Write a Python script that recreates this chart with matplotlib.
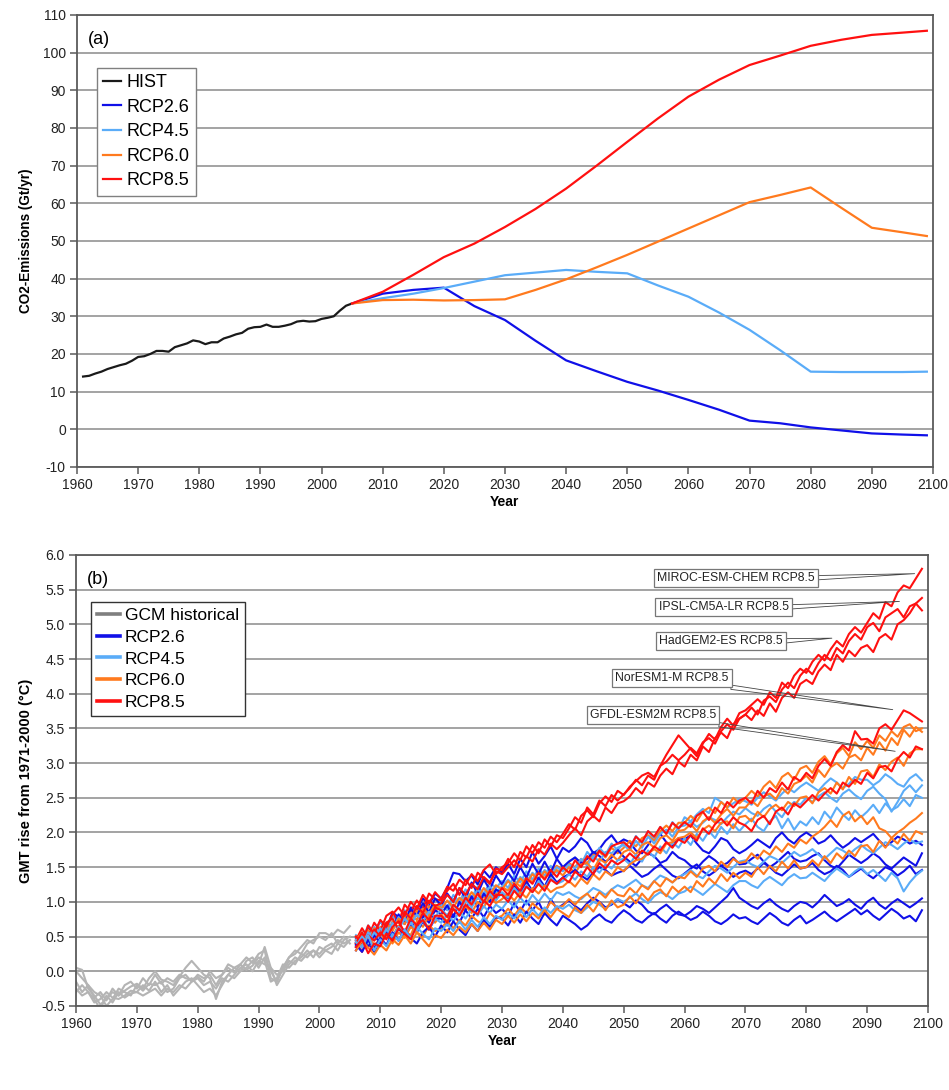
import matplotlib
matplotlib.use('Agg')
import matplotlib.pyplot as plt
import numpy as np
from matplotlib.lines import Line2D

plt.rcParams['font.family'] = ['Liberation Sans', 'DejaVu Sans']
plt.rcParams['axes.unicode_minus'] = False

# ---------------- panel (a): CO2 emissions (Gt/yr) ----------------
hist_years = list(range(1961, 2006))
hist_emis = [14.0, 14.2, 14.8, 15.3, 16.0, 16.5, 17.0, 17.4, 18.2, 19.2,
             19.4, 20.0, 20.8, 20.8, 20.6, 21.8, 22.3, 22.8, 23.6, 23.3,
             22.6, 23.1, 23.1, 24.1, 24.6, 25.2, 25.6, 26.7, 27.1, 27.2,
             27.8, 27.2, 27.2, 27.5, 27.9, 28.6, 28.8, 28.6, 28.7, 29.3,
             29.6, 30.0, 31.5, 32.8, 33.4]

rcp_years = [2005, 2010, 2015, 2020, 2025, 2030, 2035, 2040, 2045, 2050,
             2055, 2060, 2065, 2070, 2075, 2080, 2085, 2090, 2095, 2099]
emis_rcp26 = [33.4, 36.0, 37.0, 37.6, 32.7, 29.0, 23.5, 18.3, 15.4, 12.6,
              10.3, 7.8, 5.2, 2.3, 1.6, 0.5, -0.3, -1.1, -1.4, -1.6]
emis_rcp45 = [33.4, 34.8, 36.0, 37.5, 39.2, 40.9, 41.6, 42.3, 41.8, 41.4,
              38.2, 35.2, 31.0, 26.4, 21.0, 15.3, 15.2, 15.2, 15.2, 15.3]
emis_rcp60 = [33.4, 34.3, 34.4, 34.2, 34.3, 34.5, 37.0, 39.8, 43.0, 46.3,
              49.8, 53.3, 56.8, 60.3, 62.2, 64.2, 58.8, 53.5, 52.3, 51.3]
emis_rcp85 = [33.4, 36.5, 41.0, 45.7, 49.3, 53.7, 58.5, 63.9, 70.0, 76.3,
              82.5, 88.3, 92.8, 96.7, 99.2, 101.8, 103.4, 104.7, 105.3, 105.8]

# ---------------- panel (b): GMT rise from 1971-2000 (degC) ----------------
gcm_hist_years = list(range(1960, 2006))
gcm_hist = [
    [0.05, 0.02, -0.25, -0.35, -0.48, -0.40, -0.30, -0.35, -0.28, -0.22,
     -0.18, -0.25, -0.10, 0.00, -0.12, -0.15, -0.20, -0.08, 0.05, 0.15,
     0.05, -0.05, -0.10, -0.40, -0.15, -0.05, 0.05, 0.10, 0.20, 0.12,
     0.25, 0.30, -0.10, -0.15, 0.05, 0.20, 0.25, 0.35, 0.45, 0.40,
     0.55, 0.55, 0.50, 0.60, 0.55, 0.65],
    [-0.30, -0.20, -0.30, -0.40, -0.55, -0.35, -0.45, -0.30, -0.38, -0.32,
     -0.30, -0.20, -0.28, -0.15, -0.30, -0.20, -0.35, -0.25, -0.15, -0.10,
     -0.20, -0.30, -0.25, -0.35, -0.20, -0.05, -0.10, 0.00, 0.05, 0.15,
     0.10, 0.35, 0.05, -0.20, -0.05, 0.10, 0.20, 0.15, 0.25, 0.30,
     0.25, 0.35, 0.40, 0.30, 0.45, 0.50],
    [-0.15, -0.30, -0.20, -0.38, -0.30, -0.42, -0.25, -0.35, -0.20, -0.15,
     -0.25, -0.10, -0.20, -0.05, -0.18, -0.10, -0.15, -0.05, -0.10, -0.12,
     -0.08, -0.15, 0.00, -0.10, -0.05, 0.05, -0.02, 0.10, 0.02, 0.08,
     0.20, 0.15, -0.15, -0.10, 0.10, 0.05, 0.15, 0.20, 0.30, 0.20,
     0.35, 0.30, 0.25, 0.40, 0.35, 0.45],
    [-0.25, -0.35, -0.30, -0.45, -0.40, -0.30, -0.38, -0.40, -0.35, -0.28,
     -0.30, -0.35, -0.30, -0.25, -0.35, -0.25, -0.30, -0.20, -0.25, -0.15,
     -0.10, -0.20, -0.15, -0.25, -0.10, -0.15, -0.05, 0.05, 0.10, 0.00,
     0.15, 0.10, 0.05, -0.05, 0.00, 0.15, 0.10, 0.25, 0.20, 0.30,
     0.20, 0.30, 0.35, 0.45, 0.40, 0.45],
    [0.00, -0.10, -0.20, -0.30, -0.35, -0.50, -0.40, -0.25, -0.30, -0.35,
     -0.20, -0.28, -0.18, -0.20, -0.15, -0.30, -0.25, -0.10, -0.05, -0.15,
     -0.05, -0.10, -0.05, -0.20, -0.05, 0.10, 0.05, 0.00, 0.15, 0.20,
     0.05, 0.20, 0.00, -0.15, 0.05, 0.20, 0.30, 0.25, 0.40, 0.45,
     0.50, 0.45, 0.55, 0.40, 0.50, 0.40],
]

proj_years = list(range(2006, 2100))
models = ['MIROC-ESM-CHEM', 'IPSL-CM5A-LR', 'HadGEM2-ES', 'NorESM1-M', 'GFDL-ESM2M']

gmt_rcp26 = [
    [0.48, 0.40, 0.62, 0.55,
     0.72, 0.60, 0.85, 0.78, 0.70, 0.92, 0.88, 1.05, 0.95, 1.12,
     1.05, 1.20, 1.42, 1.40, 1.30, 1.38, 1.25, 1.45, 1.35, 1.50,
     1.42, 1.55, 1.40, 1.62, 1.50, 1.72, 1.55, 1.66, 1.80, 1.62,
     1.78, 1.72, 1.80, 1.92, 1.85, 1.70, 1.76, 1.88, 1.96, 1.84,
     1.90, 1.86, 1.74, 1.70, 1.82, 1.95, 1.98, 1.86, 1.80, 1.92,
     1.90, 1.96, 1.84, 1.74, 1.70, 1.80, 1.92, 1.88, 1.76, 1.70,
     1.75, 1.82, 1.90, 1.84, 1.78, 1.92, 2.00, 1.90, 1.84, 1.94,
     2.00, 1.94, 1.84, 1.88, 1.96, 1.86, 1.78, 1.84, 1.92, 1.86,
     1.92, 1.98, 1.88, 1.80, 1.86, 1.94, 1.90, 1.84, 1.88, 1.82],
    [0.42, 0.55, 0.35, 0.60,
     0.48, 0.70, 0.60, 0.82, 0.68, 0.90, 0.80, 0.98, 0.85, 1.05,
     0.95, 1.12, 1.00, 1.20, 1.05, 1.28, 1.12, 1.32, 1.18, 1.38,
     1.25, 1.42, 1.30, 1.50, 1.35, 1.55, 1.40, 1.58, 1.42, 1.62,
     1.50, 1.58, 1.64, 1.56, 1.62, 1.72, 1.66, 1.58, 1.64, 1.75,
     1.65, 1.58, 1.52, 1.62, 1.70, 1.66, 1.56, 1.60, 1.72, 1.64,
     1.60, 1.52, 1.48, 1.58, 1.66, 1.60, 1.52, 1.56, 1.64, 1.54,
     1.55, 1.62, 1.68, 1.58, 1.50, 1.56, 1.64, 1.72, 1.62, 1.58,
     1.60, 1.66, 1.70, 1.60, 1.52, 1.48, 1.58, 1.68, 1.62, 1.56,
     1.62, 1.70, 1.64, 1.54, 1.48, 1.56, 1.64, 1.58, 1.52, 1.70],
    [0.35, 0.50, 0.42, 0.28,
     0.45, 0.60, 0.48, 0.65, 0.52, 0.72, 0.60, 0.80, 0.70, 0.88,
     0.82, 0.95, 0.78, 1.00, 0.88, 1.08, 0.92, 1.12, 1.00, 1.18,
     1.12, 1.05, 1.25, 1.10, 1.30, 1.15, 1.35, 1.22, 1.40, 1.28,
     1.35, 1.40, 1.46, 1.38, 1.32, 1.42, 1.50, 1.46, 1.38, 1.42,
     1.45, 1.52, 1.44, 1.36, 1.40, 1.48, 1.54, 1.46, 1.38, 1.34,
     1.41, 1.48, 1.54, 1.44, 1.38, 1.44, 1.52, 1.46, 1.36, 1.42,
     1.45, 1.40, 1.48, 1.56, 1.50, 1.42, 1.38, 1.46, 1.54, 1.48,
     1.50, 1.56, 1.46, 1.40, 1.44, 1.52, 1.46, 1.36, 1.42, 1.48,
     1.40, 1.34, 1.42, 1.50, 1.46, 1.38, 1.44, 1.52, 1.40, 1.46],
    [0.30, 0.45, 0.36, 0.52,
     0.40, 0.56, 0.46, 0.62, 0.50, 0.66, 0.56, 0.72, 0.60, 0.76,
     0.76, 0.66, 0.82, 0.70, 0.88, 0.76, 0.90, 0.78, 0.94, 0.84,
     0.90, 0.80, 0.98, 0.86, 1.02, 0.88, 1.00, 0.82, 1.04, 0.90,
     0.96, 1.02, 0.94, 0.88, 0.98, 1.06, 1.00, 0.92, 0.96, 1.04,
     0.98, 0.92, 1.02, 0.96, 0.86, 0.82, 0.90, 0.96, 0.88, 0.82,
     0.80, 0.86, 0.94, 0.90, 0.84, 0.92, 1.00, 1.08, 1.20, 1.06,
     1.00, 0.94, 0.90, 0.98, 1.04, 0.96, 0.90, 0.86, 0.94, 1.00,
     0.98, 0.92, 1.00, 1.10, 1.02, 0.94, 0.98, 1.04, 0.96, 0.90,
     1.00, 1.06, 0.96, 0.90, 0.98, 1.04, 0.98, 0.92, 0.98, 1.05],
    [0.38, 0.28, 0.45, 0.33,
     0.48, 0.38, 0.56, 0.44, 0.60, 0.48, 0.40, 0.56, 0.64, 0.50,
     0.66, 0.56, 0.72, 0.60, 0.52, 0.68, 0.58, 0.74, 0.64, 0.78,
     0.76, 0.66, 0.82, 0.70, 0.86, 0.76, 0.68, 0.84, 0.74, 0.66,
     0.80, 0.74, 0.68, 0.60, 0.66, 0.76, 0.82, 0.74, 0.70, 0.80,
     0.88, 0.82, 0.74, 0.70, 0.78, 0.84, 0.76, 0.70, 0.80, 0.86,
     0.80, 0.74, 0.78, 0.86, 0.80, 0.72, 0.68, 0.74, 0.82, 0.76,
     0.78, 0.72, 0.68, 0.76, 0.84, 0.78, 0.70, 0.66, 0.74, 0.80,
     0.69, 0.74, 0.80, 0.86, 0.78, 0.72, 0.78, 0.84, 0.90, 0.82,
     0.88, 0.80, 0.74, 0.82, 0.90, 0.84, 0.76, 0.80, 0.72, 0.88],
]

gmt_rcp45 = [
    [0.52, 0.44, 0.66, 0.56,
     0.72, 0.60, 0.80, 0.70, 0.88, 0.78, 0.94, 0.84, 1.00, 0.90,
     1.02, 0.92, 1.10, 1.00, 1.18, 1.06, 1.22, 1.12, 1.28, 1.20,
     1.30, 1.20, 1.38, 1.28, 1.44, 1.32, 1.48, 1.38, 1.52, 1.42,
     1.50, 1.58, 1.64, 1.54, 1.72, 1.62, 1.78, 1.68, 1.84, 1.74,
     1.86, 1.78, 1.95, 1.84, 2.02, 1.90, 2.08, 1.98, 2.15, 2.04,
     2.22, 2.16, 2.26, 2.34, 2.28, 2.50, 2.44, 2.36, 2.42, 2.48,
     2.45, 2.40, 2.50, 2.58, 2.52, 2.46, 2.56, 2.64, 2.58, 2.66,
     2.72, 2.66, 2.60, 2.70, 2.78, 2.72, 2.64, 2.70, 2.80, 2.76,
     2.76, 2.68, 2.74, 2.84, 2.78, 2.70, 2.66, 2.78, 2.84, 2.75],
    [0.40, 0.56, 0.46, 0.64,
     0.54, 0.70, 0.60, 0.78, 0.68, 0.84, 0.74, 0.90, 0.80, 0.94,
     0.96, 0.88, 1.04, 0.96, 1.10, 1.02, 1.18, 1.08, 1.22, 1.14,
     1.22, 1.32, 1.22, 1.36, 1.28, 1.42, 1.32, 1.46, 1.38, 1.50,
     1.44, 1.54, 1.48, 1.62, 1.52, 1.66, 1.58, 1.72, 1.70, 1.78,
     1.82, 1.74, 1.88, 1.78, 1.94, 1.84, 1.98, 2.04, 1.94, 2.08,
     2.10, 2.16, 2.08, 2.14, 2.22, 2.18, 2.12, 2.22, 2.30, 2.26,
     2.35, 2.28, 2.24, 2.34, 2.40, 2.30, 2.22, 2.36, 2.44, 2.40,
     2.50, 2.44, 2.52, 2.58, 2.50, 2.44, 2.56, 2.62, 2.54, 2.48,
     2.60, 2.66, 2.56, 2.48, 2.30, 2.44, 2.60, 2.68, 2.58, 2.68],
    [0.45, 0.36, 0.56, 0.48,
     0.62, 0.50, 0.70, 0.60, 0.76, 0.66, 0.82, 0.72, 0.86, 0.78,
     0.90, 0.80, 0.96, 0.86, 1.02, 0.92, 1.06, 0.98, 1.12, 1.02,
     1.14, 1.06, 1.20, 1.10, 1.24, 1.14, 1.30, 1.20, 1.34, 1.26,
     1.30, 1.40, 1.32, 1.44, 1.36, 1.50, 1.42, 1.54, 1.48, 1.60,
     1.62, 1.54, 1.68, 1.58, 1.74, 1.64, 1.80, 1.70, 1.86, 1.78,
     1.92, 1.82, 1.98, 1.88, 2.02, 1.92, 2.08, 1.98, 2.12, 2.02,
     2.12, 2.20, 2.08, 2.02, 2.16, 2.24, 2.06, 2.20, 2.04, 2.16,
     2.10, 2.22, 2.12, 2.30, 2.20, 2.36, 2.26, 2.18, 2.32, 2.22,
     2.30, 2.40, 2.28, 2.42, 2.32, 2.37, 2.48, 2.38, 2.54, 2.50],
    [0.36, 0.50, 0.40, 0.56,
     0.46, 0.60, 0.50, 0.64, 0.54, 0.70, 0.58, 0.74, 0.62, 0.76,
     0.70, 0.82, 0.72, 0.86, 0.76, 0.90, 0.80, 0.94, 0.84, 0.96,
     0.90, 1.02, 0.92, 1.06, 0.96, 1.10, 1.00, 1.12, 1.02, 1.14,
     1.10, 1.14, 1.08, 1.04, 1.12, 1.20, 1.16, 1.10, 1.18, 1.24,
     1.20, 1.26, 1.32, 1.24, 1.20, 1.30, 1.38, 1.34, 1.28, 1.36,
     1.40, 1.46, 1.38, 1.34, 1.44, 1.52, 1.48, 1.42, 1.50, 1.58,
     1.60, 1.54, 1.50, 1.58, 1.66, 1.62, 1.56, 1.64, 1.72, 1.66,
     1.70, 1.76, 1.68, 1.62, 1.70, 1.78, 1.74, 1.68, 1.76, 1.82,
     1.75, 1.70, 1.78, 1.86, 1.82, 1.76, 1.84, 1.90, 1.84, 1.87],
    [0.42, 0.34, 0.52, 0.30,
     0.46, 0.36, 0.54, 0.44, 0.60, 0.48, 0.64, 0.54, 0.46, 0.62,
     0.58, 0.68, 0.58, 0.72, 0.60, 0.74, 0.64, 0.78, 0.68, 0.80,
     0.74, 0.84, 0.76, 0.88, 0.78, 0.90, 0.80, 0.92, 0.84, 0.94,
     0.90, 0.96, 0.88, 0.84, 0.92, 1.00, 0.96, 0.90, 0.98, 1.04,
     1.00, 1.06, 1.12, 1.04, 0.98, 1.08, 1.14, 1.10, 1.04, 1.12,
     1.15, 1.22, 1.16, 1.10, 1.18, 1.26, 1.20, 1.14, 1.24, 1.30,
     1.30, 1.24, 1.20, 1.30, 1.36, 1.30, 1.24, 1.34, 1.40, 1.34,
     1.35, 1.42, 1.36, 1.30, 1.40, 1.48, 1.42, 1.36, 1.44, 1.50,
     1.40, 1.46, 1.38, 1.30, 1.42, 1.34, 1.15, 1.28, 1.38, 1.45],
]

gmt_rcp60 = [
    [0.50, 0.38, 0.60, 0.46,
     0.64, 0.52, 0.72, 0.62, 0.80, 0.70, 0.88, 0.78, 0.94, 0.86,
     0.96, 0.88, 1.04, 0.96, 1.12, 1.02, 1.16, 1.06, 1.22, 1.12,
     1.22, 1.16, 1.30, 1.22, 1.36, 1.28, 1.44, 1.34, 1.46, 1.52,
     1.46, 1.56, 1.50, 1.62, 1.56, 1.68, 1.72, 1.64, 1.78, 1.70,
     1.78, 1.88, 1.80, 1.92, 1.96, 1.88, 2.02, 2.10, 2.02, 2.14,
     2.14, 2.24, 2.16, 2.30, 2.36, 2.28, 2.44, 2.36, 2.50, 2.42,
     2.50, 2.60, 2.52, 2.66, 2.74, 2.64, 2.80, 2.86, 2.76, 2.92,
     2.96, 2.86, 3.02, 3.10, 2.98, 3.14, 3.22, 3.10, 3.30, 3.20,
     3.32, 3.22, 3.40, 3.32, 3.46, 3.38, 3.52, 3.56, 3.46, 3.50],
    [0.45, 0.56, 0.40, 0.62,
     0.50, 0.70, 0.58, 0.76, 0.68, 0.84, 0.74, 0.90, 0.82, 0.96,
     0.90, 1.02, 0.92, 1.06, 0.98, 1.14, 1.04, 1.20, 1.10, 1.24,
     1.18, 1.30, 1.20, 1.34, 1.26, 1.40, 1.32, 1.44, 1.36, 1.46,
     1.38, 1.50, 1.42, 1.54, 1.56, 1.46, 1.62, 1.56, 1.68, 1.60,
     1.72, 1.76, 1.68, 1.82, 1.86, 1.78, 1.92, 1.96, 1.88, 2.02,
     2.04, 2.12, 2.02, 2.16, 2.22, 2.14, 2.26, 2.34, 2.24, 2.36,
     2.36, 2.46, 2.38, 2.52, 2.56, 2.48, 2.64, 2.56, 2.70, 2.74,
     2.82, 2.72, 2.90, 2.80, 2.94, 3.00, 2.92, 3.08, 3.12, 3.04,
     3.22, 3.12, 3.30, 3.18, 3.36, 3.26, 3.48, 3.38, 3.52, 3.45],
    [0.38, 0.52, 0.44, 0.32,
     0.48, 0.60, 0.50, 0.66, 0.58, 0.52, 0.72, 0.64, 0.80, 0.70,
     0.82, 0.72, 0.90, 0.80, 0.94, 0.84, 1.00, 0.92, 1.08, 0.98,
     1.04, 1.12, 1.02, 1.14, 1.06, 1.20, 1.12, 1.24, 1.14, 1.20,
     1.22, 1.30, 1.22, 1.34, 1.26, 1.40, 1.32, 1.44, 1.38, 1.50,
     1.44, 1.54, 1.60, 1.62, 1.70, 1.76, 1.70, 1.84, 1.86, 1.92,
     1.94, 2.00, 1.92, 2.04, 2.10, 2.02, 2.14, 2.16, 2.06, 2.22,
     2.24, 2.16, 2.30, 2.22, 2.34, 2.40, 2.32, 2.44, 2.38, 2.50,
     2.52, 2.42, 2.58, 2.64, 2.56, 2.72, 2.62, 2.80, 2.70, 2.88,
     2.90, 2.80, 2.98, 2.90, 3.02, 3.08, 2.96, 3.14, 3.20, 3.20],
    [0.42, 0.34, 0.50, 0.38,
     0.46, 0.54, 0.40, 0.56, 0.48, 0.64, 0.56, 0.50, 0.66, 0.58,
     0.62, 0.72, 0.62, 0.74, 0.66, 0.80, 0.72, 0.68, 0.84, 0.76,
     0.80, 0.90, 0.80, 0.92, 0.84, 0.98, 0.90, 0.86, 1.00, 0.92,
     0.94, 1.04, 0.96, 1.06, 1.12, 1.02, 1.14, 1.06, 1.18, 1.10,
     1.08, 1.20, 1.12, 1.24, 1.18, 1.30, 1.22, 1.34, 1.28, 1.36,
     1.34, 1.44, 1.36, 1.48, 1.52, 1.44, 1.58, 1.50, 1.62, 1.56,
     1.58, 1.70, 1.62, 1.74, 1.68, 1.80, 1.72, 1.84, 1.78, 1.90,
     1.84, 1.94, 2.00, 2.08, 2.18, 2.08, 2.24, 2.30, 2.16, 2.24,
     2.12, 2.22, 2.06, 2.02, 1.92, 2.00, 2.06, 2.14, 2.20, 2.28],
    [0.30, 0.44, 0.34, 0.24,
     0.38, 0.30, 0.46, 0.38, 0.52, 0.40, 0.56, 0.46, 0.36, 0.52,
     0.48, 0.60, 0.52, 0.64, 0.56, 0.68, 0.58, 0.70, 0.60, 0.74,
     0.68, 0.80, 0.70, 0.82, 0.72, 0.84, 0.76, 0.88, 0.78, 0.90,
     0.84, 0.78, 0.92, 0.84, 0.96, 0.86, 1.00, 0.88, 1.02, 0.92,
     0.96, 1.08, 0.98, 1.12, 1.02, 1.14, 1.18, 1.08, 1.22, 1.14,
     1.22, 1.14, 1.30, 1.22, 1.34, 1.26, 1.40, 1.30, 1.42, 1.34,
     1.42, 1.36, 1.50, 1.40, 1.52, 1.44, 1.58, 1.48, 1.60, 1.48,
     1.50, 1.60, 1.52, 1.66, 1.56, 1.70, 1.62, 1.74, 1.66, 1.80,
     1.82, 1.72, 1.88, 1.78, 1.92, 1.84, 1.98, 1.88, 2.02, 1.98],
]

gmt_rcp85 = [
    [0.45, 0.62, 0.48, 0.70,
     0.58, 0.80, 0.86, 0.70, 0.96, 0.86, 1.02, 0.90, 1.12, 1.04,
     1.02, 1.16, 1.26, 1.10, 1.32, 1.20, 1.42, 1.34, 1.26, 1.48,
     1.45, 1.62, 1.50, 1.72, 1.64, 1.82, 1.70, 1.90, 1.80, 1.96,
     1.92, 2.06, 2.22, 2.14, 2.36, 2.26, 2.46, 2.38, 2.54, 2.46,
     2.55, 2.64, 2.76, 2.68, 2.82, 2.76, 2.96, 3.12, 3.26, 3.40,
     3.30, 3.20, 3.10, 3.28, 3.42, 3.34, 3.52, 3.64, 3.54, 3.72,
     3.76, 3.84, 3.92, 3.84, 4.02, 3.94, 4.16, 4.08, 4.26, 4.36,
     4.30, 4.46, 4.56, 4.48, 4.64, 4.76, 4.68, 4.86, 4.96, 4.88,
     5.02, 5.16, 5.08, 5.32, 5.26, 5.46, 5.56, 5.52, 5.66, 5.80],
    [0.50, 0.40, 0.66, 0.54,
     0.74, 0.64, 0.82, 0.92, 0.80, 1.00, 0.90, 1.10, 0.98, 1.14,
     1.04, 1.22, 1.16, 1.32, 1.24, 1.40, 1.30, 1.46, 1.54, 1.40,
     1.50, 1.56, 1.70, 1.60, 1.80, 1.70, 1.86, 1.78, 1.94, 1.86,
     1.98, 2.12, 2.04, 2.24, 2.32, 2.22, 2.42, 2.52, 2.44, 2.60,
     2.54, 2.66, 2.74, 2.82, 2.86, 2.80, 2.96, 3.02, 3.12, 3.04,
     3.12, 3.22, 3.14, 3.30, 3.36, 3.28, 3.46, 3.56, 3.48, 3.64,
     3.70, 3.80, 3.70, 3.90, 3.96, 3.88, 4.06, 4.16, 4.08, 4.26,
     4.36, 4.28, 4.44, 4.56, 4.48, 4.66, 4.58, 4.76, 4.86, 4.78,
     4.96, 5.02, 4.90, 5.10, 5.16, 5.22, 5.10, 5.26, 5.30, 5.38],
    [0.40, 0.56, 0.34, 0.60,
     0.50, 0.70, 0.76, 0.60, 0.86, 0.76, 0.94, 0.84, 1.02, 0.94,
     0.98, 1.10, 1.00, 1.20, 1.10, 1.26, 1.18, 1.36, 1.28, 1.44,
     1.40, 1.50, 1.60, 1.50, 1.66, 1.58, 1.76, 1.68, 1.84, 1.76,
     1.85, 1.96, 2.06, 1.96, 2.16, 2.24, 2.16, 2.36, 2.28, 2.42,
     2.45, 2.52, 2.64, 2.56, 2.72, 2.66, 2.82, 2.92, 2.84, 3.02,
     2.95, 3.12, 3.04, 3.24, 3.16, 3.36, 3.44, 3.36, 3.56, 3.64,
     3.70, 3.62, 3.76, 3.68, 3.86, 3.74, 3.94, 4.02, 3.94, 4.14,
     4.20, 4.14, 4.32, 4.42, 4.34, 4.56, 4.46, 4.62, 4.54, 4.66,
     4.70, 4.60, 4.80, 4.86, 4.78, 5.00, 5.06, 5.16, 5.30, 5.20],
    [0.40, 0.28, 0.52, 0.44,
     0.56, 0.46, 0.64, 0.72, 0.56, 0.76, 0.66, 0.84, 0.74, 0.92,
     0.88, 0.78, 0.96, 0.88, 1.06, 0.96, 1.12, 1.00, 1.16, 1.06,
     1.20, 1.10, 1.26, 1.16, 1.34, 1.26, 1.42, 1.32, 1.46, 1.36,
     1.50, 1.42, 1.60, 1.50, 1.66, 1.58, 1.74, 1.66, 1.80, 1.84,
     1.86, 1.78, 1.94, 1.86, 2.02, 1.94, 2.08, 1.98, 2.14, 2.06,
     2.15, 2.08, 2.24, 2.30, 2.18, 2.36, 2.28, 2.44, 2.36, 2.46,
     2.50, 2.42, 2.60, 2.50, 2.64, 2.58, 2.72, 2.62, 2.80, 2.74,
     2.86, 2.78, 2.96, 3.06, 2.96, 3.16, 3.26, 3.18, 3.46, 3.34,
     3.35, 3.28, 3.50, 3.56, 3.48, 3.62, 3.76, 3.72, 3.66, 3.60],
    [0.35, 0.46, 0.26, 0.40,
     0.36, 0.54, 0.44, 0.62, 0.54, 0.46, 0.66, 0.74, 0.60, 0.80,
     0.80, 0.70, 0.90, 0.80, 0.96, 0.88, 0.82, 1.02, 0.94, 1.10,
     1.10, 1.00, 1.16, 1.06, 1.22, 1.14, 1.26, 1.16, 1.32, 1.26,
     1.35, 1.28, 1.44, 1.36, 1.50, 1.40, 1.56, 1.48, 1.60, 1.54,
     1.60, 1.70, 1.62, 1.74, 1.68, 1.80, 1.74, 1.86, 1.78, 1.90,
     1.85, 1.96, 1.88, 2.06, 1.98, 2.12, 2.20, 2.10, 2.22, 2.14,
     2.10, 2.02, 2.18, 2.24, 2.12, 2.30, 2.36, 2.26, 2.42, 2.36,
     2.45, 2.54, 2.46, 2.56, 2.64, 2.56, 2.72, 2.66, 2.76, 2.70,
     2.86, 2.78, 2.94, 2.96, 2.88, 3.06, 3.16, 3.08, 3.24, 3.20],
]

# ---------------- styling ----------------
C_HIST = '#1a1a1a'
C_GRAY = '#b4b4b4'
C_26 = '#1010e8'
C_45 = '#5aacf8'
C_60 = '#ff7a1e'
C_85 = '#ff1010'
GRID = '#8a8a8a'
SPINE = '#5a5a5a'


def style_axes(ax):
    ax.grid(axis='y', color=GRID, linewidth=1.1)
    ax.grid(axis='x', visible=False)
    ax.set_axisbelow(True)
    for s in ax.spines.values():
        s.set_color(SPINE)
        s.set_linewidth(1.3)
    ax.tick_params(direction='out', length=5, width=1.1, color=SPINE,
                   labelsize=10, labelcolor='#222222', pad=3)


fig = plt.figure(figsize=(9.49, 10.90), dpi=100)

# panel (a)
ax1 = fig.add_axes([0.0811, 0.5716, 0.902, 0.4147])
ax1.plot(hist_years, hist_emis, color=C_HIST, lw=1.6, label='HIST')
ax1.plot(rcp_years, emis_rcp26, color=C_26, lw=1.6, label='RCP2.6')
ax1.plot(rcp_years, emis_rcp45, color=C_45, lw=1.6, label='RCP4.5')
ax1.plot(rcp_years, emis_rcp60, color=C_60, lw=1.6, label='RCP6.0')
ax1.plot(rcp_years, emis_rcp85, color=C_85, lw=1.6, label='RCP8.5')
ax1.set_xlim(1960, 2100)
ax1.set_ylim(-10, 110)
ax1.set_xticks(range(1960, 2101, 10))
ax1.set_yticks(range(-10, 111, 10))
style_axes(ax1)
ax1.set_xlabel('Year', fontsize=10, fontweight='bold', labelpad=2)
ax1.set_ylabel('CO2-Emissions (Gt/yr)', fontsize=9.8, fontweight='bold', labelpad=7)
ax1.text(0.013, 0.965, '(a)', transform=ax1.transAxes, fontsize=13, va='top')
leg1 = ax1.legend(loc='upper left', bbox_to_anchor=(0.0234, 0.883), fontsize=13,
                  frameon=True, fancybox=False, edgecolor='#808080', framealpha=1,
                  handlelength=1.0, handletextpad=0.3, labelspacing=0.42,
                  borderpad=0.35, borderaxespad=0)
leg1.get_frame().set_linewidth(1.0)

# panel (b)
ax2 = fig.add_axes([0.0801, 0.0771, 0.8978, 0.4138])
for h in gcm_hist:
    ax2.plot(gcm_hist_years, h, color=C_GRAY, lw=1.5)
for i in range(len(models)):
    ax2.plot(proj_years, gmt_rcp26[i], color=C_26, lw=1.5)
    ax2.plot(proj_years, gmt_rcp45[i], color=C_45, lw=1.5)
    ax2.plot(proj_years, gmt_rcp60[i], color=C_60, lw=1.5)
    ax2.plot(proj_years, gmt_rcp85[i], color=C_85, lw=1.5)
ax2.set_xlim(1960, 2100)
ax2.set_ylim(-0.5, 6.0)
ax2.set_xticks(range(1960, 2101, 10))
ax2.set_yticks(np.arange(-0.5, 6.01, 0.5))
ax2.set_yticklabels([f'{v:.1f}' for v in np.arange(-0.5, 6.01, 0.5)])
style_axes(ax2)
ax2.set_xlabel('Year', fontsize=10, fontweight='bold', labelpad=2)
ax2.set_ylabel('GMT rise from 1971-2000 (°C)', fontsize=10.5, fontweight='bold', labelpad=6)
ax2.text(0.013, 0.965, '(b)', transform=ax2.transAxes, fontsize=13, va='top')

handles = [Line2D([], [], color='#7f7f7f', lw=2.6),
           Line2D([], [], color=C_26, lw=2.6),
           Line2D([], [], color=C_45, lw=2.6),
           Line2D([], [], color=C_60, lw=2.6),
           Line2D([], [], color=C_85, lw=2.6)]
leg2 = ax2.legend(handles, ['GCM historical', 'RCP2.6', 'RCP4.5', 'RCP6.0', 'RCP8.5'],
                  loc='upper left', bbox_to_anchor=(0.0176, 0.896), fontsize=12.5,
                  frameon=True, fancybox=False, edgecolor='#333333', framealpha=1,
                  handlelength=1.3, handletextpad=0.3, labelspacing=0.38,
                  borderpad=0.35, borderaxespad=0)
leg2.get_frame().set_linewidth(1.0)

# model callouts for the RCP8.5 runs
callouts = [
    (models[0], (2097.8, 5.73), (2068.4, 5.67), (1.0, 0.5)),
    (models[1], (2095.3, 5.33), (2066.4, 5.25), (1.0, 0.5)),
    (models[2], (2084.2, 4.80), (2066.0, 4.76), (1.0, 0.5)),
    (models[3], (2094.2, 3.77), (2057.9, 4.23), (0.8, 0.0)),
    (models[4], (2094.6, 3.17), (2054.8, 3.69), (0.84, 0.0)),
]
for name, xy, xyt, rp in callouts:
    ax2.annotate(name + ' RCP8.5', xy=xy, xytext=xyt, textcoords='data',
                 ha='center', va='center', fontsize=8.8, color='#222222',
                 bbox=dict(boxstyle='square,pad=0.25', fc='white', ec='#777777', lw=0.9),
                 arrowprops=dict(arrowstyle='wedge,tail_width=0.35,shrink_factor=0.5',
                                 fc='none', ec='#444444', lw=0.6, relpos=rp,
                                 shrinkA=0, shrinkB=0))

fig.savefig('out.png', dpi=100)
